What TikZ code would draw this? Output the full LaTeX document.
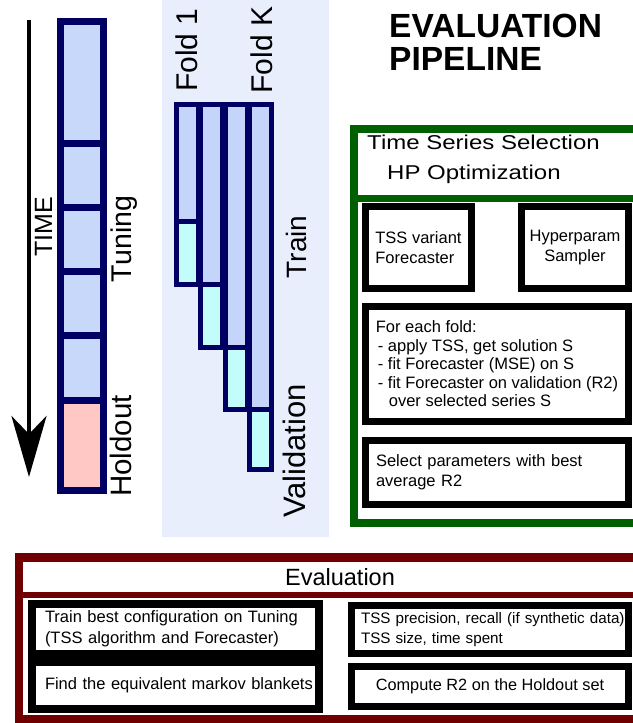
\documentclass[tikz,border=0pt]{standalone}
\usepackage{fontspec}
\setmainfont{Liberation Sans}
\usepackage{tikz}
\usetikzlibrary{arrows.meta}
\definecolor{darknavy}{RGB}{0, 0, 100}
\definecolor{tuneblue}{RGB}{200, 216, 250}
\definecolor{holdpink}{RGB}{255, 200, 196}
\definecolor{trainblue}{RGB}{196, 212, 250}
\definecolor{validcyan}{RGB}{194, 253, 251}
\definecolor{foldbg}{RGB}{233, 238, 252}
\definecolor{hpgreen}{RGB}{0, 95, 0}
\definecolor{evalred}{RGB}{112, 0, 0}

\begin{document}
\begin{tikzpicture}[x=1pt, y=-1pt,
  cell/.style={draw=darknavy, line width=7pt},
  foldbar/.style={draw=darknavy, line width=5pt},
  vlabel/.style={rotate=90, anchor=base, inner sep=0pt,
                 font=\fontsize{#1}{#1}\selectfont},
  vlabel/.default=28,
  box/.style={draw=black, fill=white, line width=7pt, inner sep=0pt,
              font=\fontsize{16.5}{20}\selectfont},
  frametitle/.style={inner sep=0pt, font=\fontsize{23.5}{30}\selectfont},
]
  \path[use as bounding box, fill=white] (0,0) rectangle (632,723);

  % --- time axis ---
  \coordinate (timetop) at (29,20);
  \coordinate (timebot) at (29,477);
  \draw[line width=4pt, -{Stealth[length=61pt, width=35pt, inset=18pt]}]
    (timetop) -- (timebot);
  \node[vlabel=25] (time) at (52,227) {TIME};

  % --- tuning / holdout column ---
  \foreach \ya/\yb/\col in {21.5/143/tuneblue, 143/207.5/tuneblue,
    207.5/271/tuneblue, 271/335.5/tuneblue, 335.5/400/tuneblue,
    400/490.5/holdpink}
    \draw[cell, fill=\col] (60,\ya) rectangle (103.5,\yb);
  \node[vlabel=28.5] (tuning) at (131,239) {Tuning};
  \node[vlabel=29.5] (holdout) at (131,446) {Holdout};

  % --- folds ---
  \fill[foldbg] (162,0) rectangle (329,537);
  \foreach \i/\yv/\ye in {0/221/284.5, 1/284.5/347.5, 2/347.5/409.5,
    3/409.5/469.5} {
    \draw[foldbar, fill=trainblue] (176+24.5*\i,104.5) rectangle (198+24.5*\i,\yv);
    \draw[foldbar, fill=validcyan] (176+24.5*\i,\yv) rectangle (198+24.5*\i,\ye);
  }
  \node[vlabel=30] (fold1) at (197,50) {Fold 1};
  \node[vlabel=30] (foldK) at (272,50) {Fold K};
  \node[vlabel] (train) at (306,247) {Train};
  \node[vlabel=31] (valid) at (305,451) {Validation};

  % --- title ---
  \node[anchor=base west, inner sep=0pt,
        font=\fontsize{33.5}{33.5}\selectfont\bfseries] (title1) at (389,37) {EVALUATION};
  \node[anchor=base west, inner sep=0pt,
        font=\fontsize{33.5}{33.5}\selectfont\bfseries] (title2) at (389,70) {PIPELINE};

  % --- HP optimization frame ---
  \draw[hpgreen, line width=8pt] (354,128.5) rectangle (660,522.5);
  \draw[hpgreen, line width=7pt] (354,198.5) -- (660,198.5);
  \node[frametitle, anchor=base west, font=\fontsize{20}{20}\selectfont, xscale=1.2]
    (hptitle1) at (367,149) {Time Series Selection};
  \node[frametitle, anchor=base west, font=\fontsize{20}{20}\selectfont, xscale=1.2]
    (hptitle2) at (387,179) {HP Optimization};

  \node[box, minimum width=106pt, minimum height=82pt, align=left]
    (tssbox) at (418.5,247.5) {TSS variant\\Forecaster};
  \node[box, minimum width=107pt, minimum height=82pt, align=center]
    (hpbox) at (575,247.5) {Hyperparam\\Sampler};
  \node[box, minimum width=263pt, minimum height=115pt, align=left,
        font=\fontsize{16.5}{18.5}\selectfont] (foldbox) at (497,364)
    {For each fold:\\
     \hspace*{2pt}- apply TSS, get solution S\\
     \hspace*{2pt}- fit Forecaster (MSE) on S\\
     \hspace*{2pt}- fit Forecaster on validation (R2)\\
     \hspace*{13pt}over selected series S};
  \node[box, minimum width=263pt, minimum height=64pt, text width=242pt, align=left]
    (selbox) at (497,472.5) {Select parameters with best\\average R2};

  % --- evaluation frame ---
  \draw[evalred, line width=8.5pt] (19,557.5) rectangle (660,719);
  \draw[evalred, line width=6pt] (19,595) -- (660,595);
  \node[frametitle] (evaltitle) at (340,577) {Evaluation};

  \node[box, line width=8pt, minimum width=287pt, minimum height=50pt,
        text width=261pt, align=left, font=\fontsize{16.5}{21}\selectfont]
    (trainbox) at (175.5,629)
    {\mbox{Train best configuration on Tuning}\\\mbox{(TSS algorithm and Forecaster)}};
  \node[box, line width=8pt, minimum width=287pt, minimum height=47pt,
        text width=261pt, align=left]
    (markovbox) at (175.5,685.5) {\mbox{Find the equivalent markov blankets}};
  \node[box, minimum width=277pt, minimum height=47.5pt, text width=258pt,
        align=left, font=\fontsize{15.2}{20}\selectfont]
    (tssbox2) at (490,629.25)
    {\mbox{TSS precision, recall (if synthetic data)}\\\mbox{TSS size, time spent}};
  \node[box, minimum width=277pt, minimum height=40pt, font=\fontsize{16.3}{20}\selectfont]
    (holdbox) at (490,686.5) {Compute R2 on the Holdout set};

\end{tikzpicture}
\end{document}
